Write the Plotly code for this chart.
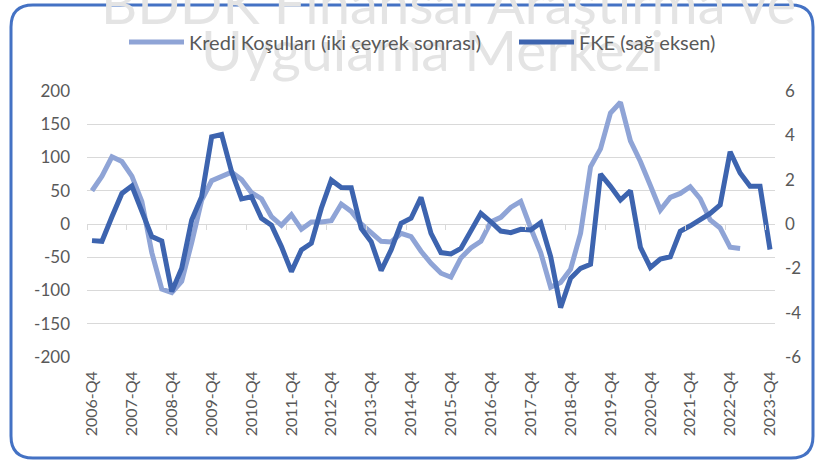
import plotly.graph_objects as go

# ---- data ----
quarters = ["2006-Q4"] + [f"{y}-Q{q}" for y in range(2007, 2024) for q in range(1, 5)]
tick_quarters = [f"{y}-Q4" for y in range(2006, 2024)]

kredi = [50, 72, 101, 94, 72, 34, -43, -98, -103, -86,
         -28, 36, 65, 71, 78, 67, 47, 38, 11, -2,
         14, -8, 3, 3, 5, 30, 19, 0, -13, -26,
         -27, -14, -19, -41, -59, -74, -80, -51, -36, -26,
         3, 10, 25, 34, -6, -43, -95, -88, -68, -14,
         86, 113, 167, 183, 125, 94, 58, 21, 40, 46,
         56, 38, 6, -6, -35, -37, None, None, None]

fke = [-0.75, -0.78, 0.33, 1.38, 1.72, 0.55, -0.57, -0.77, -3.05, -2.0,
       0.18, 1.23, 3.93, 4.04, 2.36, 1.13, 1.23, 0.26, -0.05, -1.02,
       -2.15, -1.17, -0.87, 0.71, 1.98, 1.65, 1.64, -0.2, -0.8, -2.1,
       -1.17, 0.03, 0.26, 1.2, -0.42, -1.29, -1.35, -1.1, -0.27, 0.48,
       0.1, -0.32, -0.39, -0.24, -0.27, 0.06, -1.47, -3.77, -2.45, -2.0,
       -1.82, 2.25, 1.7, 1.08, 1.5, -1.05, -1.96, -1.58, -1.48, -0.33,
       -0.08, 0.17, 0.48, 0.86, 3.26, 2.3, 1.7, 1.7, -1.15]

left_ticks = [200, 150, 100, 50, 0, -50, -100, -150, -200]
left_text = ["200", "150", "100", "50", "0", "-50", "-100", "-150", "-200"]
right_ticks = [6, 4, 2, 0, -2, -4, -6]
right_text = ["6", "4", "2", "0", "-2", "-4", "-6"]

name_kredi = "Kredi Koşulları (iki çeyrek sonrası)"
name_fke = "FKE (sağ eksen)"
watermark = ["BDDK Finansal Araştırma ve", "Uygulama Merkezi"]

# ---- figure ----
W, H = 820, 461
ML, MR, MT, MB = 87, 45, 91, 104
PW, PH = W - ML - MR, H - MT - MB


def px(x):
    return (x - ML) / PW


def py(y):
    return (H - MB - y) / PH


FONT = "Lato"
TXT = "#595959"
LIGHT = "#8FA4D6"
DARK = "#3D64AF"

fig = go.Figure()
fig.add_trace(go.Scatter(x=quarters, y=kredi, name=name_kredi, mode="lines",
                         line=dict(color=LIGHT, width=5), connectgaps=False, legend="legend"))
fig.add_trace(go.Scatter(x=quarters, y=fke, name=name_fke, mode="lines",
                         line=dict(color=DARK, width=5), yaxis="y2", legend="legend2"))

legend_style = dict(orientation="h", yanchor="middle", xanchor="left", y=py(42),
                    font=dict(family=FONT, size=20, color=TXT), bgcolor="rgba(0,0,0,0)",
                    itemwidth=55)

n = len(quarters)
fig.update_layout(
    width=W, height=H,
    margin=dict(l=ML, r=MR, t=MT, b=MB, autoexpand=False),
    paper_bgcolor="white", plot_bgcolor="white",
    font=dict(family=FONT, size=16, color=TXT),
    showlegend=True,
    legend=dict(x=px(124), **legend_style),
    legend2=dict(x=px(514), **legend_style),
    xaxis=dict(type="category", categoryorder="array", categoryarray=quarters,
               range=[-0.5, n - 0.5], tickmode="array", tickvals=tick_quarters,
               ticktext=tick_quarters, tickangle=-90, showgrid=False, zeroline=False,
               showline=False, ticks="", ticklabelstandoff=10, automargin=False,
               tickfont=dict(family=FONT, size=16, color=TXT)),
    xaxis2=dict(overlaying="x", anchor="free", position=0.5, range=[-0.5, n - 0.5],
                tickmode="array", tickvals=[i - 0.5 for i in range(0, n + 1, 4)],
                showticklabels=False, ticks="outside", ticklen=5, tickcolor="#D9D9D9",
                showgrid=False, zeroline=False, showline=False, automargin=False),
    yaxis=dict(range=[-200, 200], tickmode="array", tickvals=left_ticks, ticktext=left_text,
               showgrid=True, gridcolor="#D9D9D9", gridwidth=1, zeroline=False,
               showline=False, ticks="", ticklabelstandoff=16, automargin=False,
               tickfont=dict(family=FONT, size=17, color=TXT)),
    yaxis2=dict(range=[-6, 6], overlaying="y", side="right", tickmode="array",
                tickvals=right_ticks, ticktext=right_text, showgrid=False,
                zeroline=False, showline=False, ticks="", ticklabelstandoff=9,
                automargin=False, tickfont=dict(family=FONT, size=17, color=TXT)),
)

# invisible trace so the zero-line tick axis is drawn
fig.add_trace(go.Scatter(x=[None], y=[None], xaxis="x2", showlegend=False, hoverinfo="skip"))

# watermark
fig.add_annotation(text=watermark[0], xref="paper", yref="paper", x=px(448), y=py(2),
                   xanchor="center", yanchor="middle", showarrow=False,
                   font=dict(family=FONT, size=56, color="#E4E4E4"))
fig.add_annotation(text=watermark[1], xref="paper", yref="paper", x=px(432), y=py(49),
                   xanchor="center", yanchor="middle", showarrow=False,
                   font=dict(family=FONT, size=57, color="#E4E4E4"))

# rounded border
x0, x1, y0, y1, r = px(11), px(813), py(5), py(458), 22
rx, ry = r / PW, r / PH
path = (f"M{x0 + rx},{y0} L{x1 - rx},{y0} Q{x1},{y0} {x1},{y0 - ry} "
        f"L{x1},{y1 + ry} Q{x1},{y1} {x1 - rx},{y1} L{x0 + rx},{y1} "
        f"Q{x0},{y1} {x0},{y1 + ry} L{x0},{y0 - ry} Q{x0},{y0} {x0 + rx},{y0} Z")
fig.add_shape(type="path", path=path, xref="paper", yref="paper",
              line=dict(color="#4472C4", width=3), fillcolor="rgba(0,0,0,0)")

post = """
document.body.style.margin='0';document.body.style.overflow='hidden';
var gd=document.getElementsByClassName('plotly-graph-div')[0];
var anns=gd.querySelectorAll('g.annotation');
if(anns.length){var layer=anns[0].parentNode;
 for(var i=anns.length-1;i>=0;i--){layer.insertBefore(anns[i], layer.firstChild);}}
"""
fig.write_html("out.html", config={"displayModeBar": False}, post_script=post)
